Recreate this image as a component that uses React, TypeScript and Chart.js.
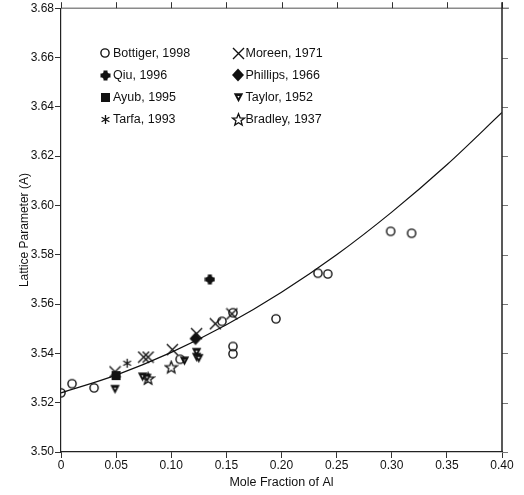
import React, { useEffect, useRef } from 'react';
import { Chart, registerables } from 'chart.js';

Chart.register(...registerables);

// Axis tick labels
const xTickLabels = ['0', '0.05', '0.10', '0.15', '0.20', '0.25', '0.30', '0.35', '0.40'];
const yTickLabels = ['3.50', '3.52', '3.54', '3.56', '3.58', '3.60', '3.62', '3.64', '3.66', '3.68'];

// Series labels (legend order)
const seriesLabels = [
  'Bottiger, 1998',
  'Qiu, 1996',
  'Ayub, 1995',
  'Tarfa, 1993',
  'Moreen, 1971',
  'Phillips, 1966',
  'Taylor, 1952',
  'Bradley, 1937',
];

// Measured lattice parameters (mole fraction of Al, lattice parameter)
const bottigerX = [0, 0.010, 0.030, 0.108, 0.146, 0.156, 0.156, 0.156, 0.195, 0.233, 0.242, 0.299, 0.318];
const bottigerY = [3.524, 3.5277, 3.526, 3.5376, 3.553, 3.5565, 3.5428, 3.5398, 3.554, 3.5725, 3.5722, 3.5895, 3.5887];

const qiuX = [0.135];
const qiuY = [3.570];

const ayubX = [0.050];
const ayubY = [3.531];

const tarfaX = [0.060];
const tarfaY = [3.536];

const moreenX = [0.049, 0.075, 0.079, 0.101, 0.123, 0.140, 0.155];
const moreenY = [3.5325, 3.5385, 3.5385, 3.5415, 3.548, 3.552, 3.556];

const phillipsX = [0.122];
const phillipsY = [3.546];

const taylorX = [0.049, 0.074, 0.078, 0.112, 0.123, 0.123, 0.125];
const taylorY = [3.5255, 3.5305, 3.530, 3.537, 3.5405, 3.5385, 3.538];

const bradleyX = [0.079, 0.100];
const bradleyY = [3.5298, 3.5344];

// Fitted trend curve
const fitX = [0, 0.05, 0.10, 0.15, 0.20, 0.25, 0.30, 0.35, 0.40];
const fitY = [3.5240, 3.5312, 3.5404, 3.5516, 3.5648, 3.5800, 3.5973, 3.6165, 3.6377];

const FONT = '"Liberation Sans", Arial, Helvetica, sans-serif';
const INK = '#111111';

const toPoints = (xs: number[], ys: number[]) => xs.map((x, i) => ({ x, y: ys[i] }));

// ---- marker glyphs -------------------------------------------------------
function makeGlyph(size: number, draw: (ctx: CanvasRenderingContext2D, c: number) => void) {
  const cv = document.createElement('canvas');
  cv.width = size;
  cv.height = size;
  const ctx = cv.getContext('2d')!;
  ctx.strokeStyle = INK;
  ctx.fillStyle = INK;
  draw(ctx, size / 2);
  return cv;
}

const glyphCircle = () =>
  makeGlyph(12, (ctx, c) => {
    ctx.lineWidth = 1.4;
    ctx.beginPath();
    ctx.arc(c, c, 4.1, 0, Math.PI * 2);
    ctx.stroke();
  });

const glyphBlob = () =>
  makeGlyph(11, (ctx, c) => {
    ctx.beginPath();
    ctx.arc(c, c, 3.6, 0, Math.PI * 2);
    ctx.fill();
    ctx.fillRect(c - 2, c - 5, 4, 10);
    ctx.fillRect(c - 5, c - 2, 10, 4);
  });

const glyphSquare = () =>
  makeGlyph(11, (ctx) => {
    ctx.fillRect(1, 1, 9, 9);
  });

const glyphAsterisk = () =>
  makeGlyph(11, (ctx, c) => {
    ctx.lineWidth = 1.3;
    ctx.beginPath();
    for (let k = 0; k < 3; k++) {
      const a = Math.PI / 2 + (k * Math.PI) / 3;
      const dx = Math.cos(a) * 4.5;
      const dy = Math.sin(a) * 4.5;
      ctx.moveTo(c - dx, c - dy);
      ctx.lineTo(c + dx, c + dy);
    }
    ctx.stroke();
  });

const glyphCross = () =>
  makeGlyph(13, (ctx) => {
    ctx.lineWidth = 1.4;
    ctx.beginPath();
    ctx.moveTo(1, 1);
    ctx.lineTo(12, 12);
    ctx.moveTo(12, 1);
    ctx.lineTo(1, 12);
    ctx.stroke();
  });

const glyphDiamond = () =>
  makeGlyph(14, (ctx, c) => {
    ctx.beginPath();
    ctx.moveTo(c, 0.5);
    ctx.lineTo(13, c);
    ctx.lineTo(c, 13.5);
    ctx.lineTo(1, c);
    ctx.closePath();
    ctx.fill();
  });

const glyphTriangle = () =>
  makeGlyph(11, (ctx, c) => {
    ctx.beginPath();
    ctx.moveTo(0.8, 1.2);
    ctx.lineTo(10.2, 1.2);
    ctx.lineTo(c, 10.2);
    ctx.closePath();
    ctx.fill();
    ctx.fillStyle = '#ffffff';
    ctx.beginPath();
    ctx.moveTo(4.4, 3.9);
    ctx.lineTo(6.6, 3.9);
    ctx.lineTo(c, 6.1);
    ctx.closePath();
    ctx.fill();
  });

const glyphStar = () =>
  makeGlyph(15, (ctx, c) => {
    ctx.lineWidth = 1.3;
    ctx.beginPath();
    for (let k = 0; k < 10; k++) {
      const r = k % 2 === 0 ? 6.3 : 2.7;
      const a = -Math.PI / 2 + (k * Math.PI) / 5;
      const px = c + Math.cos(a) * r;
      const py = c + 0.5 + Math.sin(a) * r;
      if (k === 0) ctx.moveTo(px, py);
      else ctx.lineTo(px, py);
    }
    ctx.closePath();
    ctx.stroke();
  });

// ---- plot frame: top edge and outward ticks on the top / right sides ------
const frame = {
  id: 'frame',
  afterDraw(chart: any) {
    const ctx: CanvasRenderingContext2D = chart.ctx;
    const { left, right, top } = chart.chartArea;
    const xs = chart.scales.x;
    const ys = chart.scales.y;
    ctx.save();
    // top edge
    ctx.strokeStyle = '#8a8a8a';
    ctx.lineWidth = 1.5;
    ctx.beginPath();
    ctx.moveTo(left, top);
    ctx.lineTo(right + 7, top);
    ctx.stroke();
    // top ticks
    ctx.strokeStyle = '#333';
    ctx.lineWidth = 1;
    ctx.beginPath();
    xTickLabels.forEach((t) => {
      const px = Math.round(xs.getPixelForValue(parseFloat(t))) + 0.5;
      ctx.moveTo(px, top);
      ctx.lineTo(px, top - 6);
    });
    ctx.stroke();
    // right ticks
    ctx.strokeStyle = '#777';
    ctx.beginPath();
    yTickLabels.forEach((t) => {
      const py = Math.round(ys.getPixelForValue(parseFloat(t))) + 0.5;
      ctx.moveTo(right, py);
      ctx.lineTo(right + 6, py);
    });
    ctx.stroke();
    // right edge
    ctx.strokeStyle = '#222';
    ctx.lineWidth = 1.5;
    ctx.beginPath();
    ctx.moveTo(right, top - 6);
    ctx.lineTo(right, chart.chartArea.bottom);
    ctx.stroke();
    ctx.restore();
  },
};

// ---- legend drawn inside the plot area -----------------------------------
const insetLegend = {
  id: 'insetLegend',
  afterDraw(chart: any) {
    const ctx: CanvasRenderingContext2D = chart.ctx;
    const sets = chart.data.datasets.filter((d: any) => d.legendGlyph);
    ctx.save();
    ctx.font = `12.5px ${FONT}`;
    ctx.fillStyle = INK;
    ctx.textBaseline = 'middle';
    ctx.textAlign = 'left';
    sets.forEach((d: any, i: number) => {
      const col = Math.floor(i / 4);
      const row = i % 4;
      const sx = 105 + col * 133;
      const tx = 113 + col * 132.5;
      const y = 53 + row * 22;
      const g: HTMLCanvasElement = d.legendGlyph;
      ctx.drawImage(g, Math.round(sx - g.width / 2), Math.round(y - g.height / 2));
      ctx.fillText(d.label, tx, y + 0.5);
    });
    ctx.restore();
  },
};

export default function App() {
  const canvasRef = useRef<HTMLCanvasElement | null>(null);

  useEffect(() => {
    const canvas = canvasRef.current;
    if (!canvas) return;

    const glyphs = [
      glyphCircle(),
      glyphBlob(),
      glyphSquare(),
      glyphAsterisk(),
      glyphCross(),
      glyphDiamond(),
      glyphTriangle(),
      glyphStar(),
    ];
    const seriesData = [
      toPoints(bottigerX, bottigerY),
      toPoints(qiuX, qiuY),
      toPoints(ayubX, ayubY),
      toPoints(tarfaX, tarfaY),
      toPoints(moreenX, moreenY),
      toPoints(phillipsX, phillipsY),
      toPoints(taylorX, taylorY),
      toPoints(bradleyX, bradleyY),
    ];

    const markerSets = seriesLabels.map((label, i) => ({
      label,
      data: seriesData[i],
      showLine: false,
      pointStyle: glyphs[i],
      pointRadius: 5,
      legendGlyph: glyphs[i],
    }));

    const fitSet = {
      label: 'fit',
      data: toPoints(fitX, fitY),
      showLine: true,
      borderColor: INK,
      borderWidth: 1.2,
      pointRadius: 0,
      cubicInterpolationMode: 'monotone',
      fill: false,
    };

    const tickFont = { family: FONT, size: 12 };

    const chart = new Chart(canvas, {
      type: 'scatter',
      data: { datasets: [...markerSets, fitSet] as any },
      options: {
        animation: false,
        responsive: false,
        events: [],
        layout: { padding: { left: 0, top: 8, right: 22, bottom: 0 } },
        plugins: {
          legend: { display: false },
          tooltip: { enabled: false },
        },
        scales: {
          x: {
            type: 'linear',
            position: 'bottom',
            min: 0,
            max: 0.4,
            afterBuildTicks: (s: any) => {
              s.ticks = xTickLabels.map((t) => ({ value: parseFloat(t) }));
            },
            afterFit: (s: any) => {
              s.height = 43;
            },
            ticks: {
              callback: (_v: any, i: number) => xTickLabels[i],
              padding: 0,
              color: INK,
              font: tickFont,
              maxRotation: 0,
              autoSkip: false,
            },
            grid: { display: true, drawOnChartArea: false, drawTicks: true, tickLength: 6, color: '#333' },
            border: { display: true, color: '#222', width: 1.2 },
            title: {
              display: true,
              text: 'Mole Fraction of Al',
              color: INK,
              font: { family: FONT, size: 12.5 },
              padding: 4.5,
            },
          },
          y: {
            type: 'linear',
            position: 'left',
            min: 3.5,
            max: 3.68,
            afterBuildTicks: (s: any) => {
              s.ticks = yTickLabels.map((t) => ({ value: parseFloat(t) }));
            },
            afterFit: (s: any) => {
              s.width = 61;
            },
            ticks: {
              callback: (_v: any, i: number) => yTickLabels[i],
              padding: 1,
              color: INK,
              font: tickFont,
              autoSkip: false,
            },
            grid: { display: true, drawOnChartArea: false, drawTicks: true, tickLength: 6, color: '#333' },
            border: { display: true, color: '#222', width: 1.2 },
            title: {
              display: true,
              text: 'Lattice Parameter (A)',
              color: INK,
              font: { family: FONT, size: 12 },
              padding: 17.8,
            },
          },
        },
      } as any,
      plugins: [frame, insetLegend],
    });

    return () => {
      chart.destroy();
    };
  }, []);

  return (
    <div style={{ position: 'absolute', left: 0, top: 0, width: 524, height: 495, background: '#ffffff' }}>
      <canvas ref={canvasRef} width={524} height={495} style={{ display: 'block' }} />
    </div>
  );
}
